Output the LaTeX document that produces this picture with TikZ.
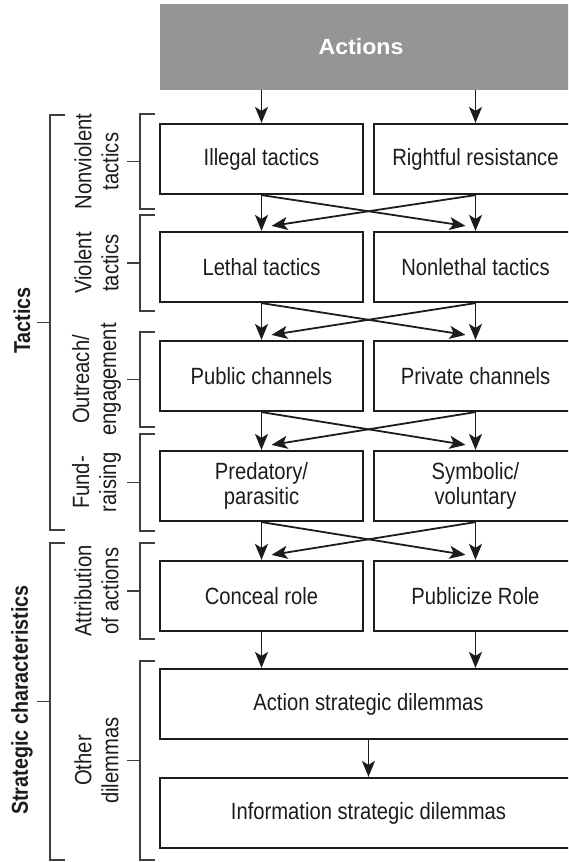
\documentclass[tikz,border=0pt]{standalone}
\usepackage{fontspec}
\setmainfont{Liberation Sans}[FakeStretch=0.86]
\newfontfamily\headfont{Liberation Sans}[FakeStretch=1.05]
\usetikzlibrary{arrows.meta}
\definecolor{headgray}{RGB}{148,149,151}
\definecolor{ink}{RGB}{30,27,28}
\begin{document}
\begin{tikzpicture}[x=1pt,y=-1pt,
  box/.style={draw=ink, line width=2.2pt, minimum width=203pt, minimum height=70pt,
    inner sep=0pt, align=center, font=\fontsize{23.5}{25}\selectfont, text=ink},
  widebox/.style={box, minimum width=417pt},
  headbox/.style={fill=headgray, draw=none, minimum width=440pt, minimum height=86pt, inner sep=0pt},
  headtext/.style={text=white, font=\headfont\fontsize{22}{24}\selectfont\bfseries, inner sep=0pt},
  arr/.style={draw=ink, line width=1.8pt, -{Stealth[length=16pt,width=13pt,inset=4pt]}},
  brace/.style={draw=ink!85, line width=1.6pt},
  sublabel/.style={rotate=90, align=center, font=\fontsize{23.5}{27}\selectfont, text=ink, inner sep=0pt},
  grouplabel/.style={rotate=90, font=\fontsize{23}{27}\selectfont\bfseries, text=ink, inner sep=0pt},
]
\useasboundingbox (0,0) rectangle (568,862);
\clip (0,0) rectangle (568,862);

% header
\node[headbox] (act) at (380,47) {};
\node[headtext] (acttitle) at (361,47) {Actions};

% paired boxes
\node[box] (l1) at (261.5,159) {Illegal tactics};
\node[box] (r1) at (475.5,159) {Rightful resistance};
\node[box] (l2) at (261.5,267) {Lethal tactics};
\node[box] (r2) at (475.5,267) {Nonlethal tactics};
\node[box] (l3) at (261.5,376) {Public channels};
\node[box] (r3) at (475.5,376) {Private channels};
\node[box] (l4) at (261.5,486) {Predatory/\\parasitic};
\node[box] (r4) at (475.5,486) {Symbolic/\\voluntary};
\node[box] (l5) at (261.5,596) {Conceal role};
\node[box] (r5) at (475.5,596) {Publicize Role};
% full-width boxes
\node[widebox] (w6) at (368.5,704) {Action strategic dilemmas};
\node[widebox] (w7) at (368.5,813) {Information strategic dilemmas};

% arrows from the header
\draw[arr] (act.south -| l1.north) -- (l1.north);
\draw[arr] (act.south -| r1.north) -- (r1.north);

% straight and crossing arrows between paired rows
\foreach \a/\b in {1/2,2/3,3/4,4/5}{
  \draw[arr] (l\a.south) -- (l\b.north);
  \draw[arr] (r\a.south) -- (r\b.north);
  \draw[arr] (l\a.south) -- ([xshift=-10pt,yshift=5pt]r\b.north);
  \draw[arr] (r\a.south) -- ([xshift=10pt,yshift=5pt]l\b.north);
}
\draw[arr] (l5.south) -- (l5.south |- w6.north);
\draw[arr] (r5.south) -- (r5.south |- w6.north);
\draw[arr] (w6.south) -- (w7.north);

% inner brackets with their labels
\foreach \t/\b/\txt [count=\i] in {
  114/209/{Nonviolent\\tactics},
  215/311/{Violent\\tactics},
  332/427/{Outreach/\\engagement},
  434/531/{Fund-\\raising},
  543/639/{Attribution\\of actions},
  661/860/{Other\\dilemmas}}{
  \pgfmathsetmacro{\m}{(\t+\b)/2}
  \draw[brace] (155,\t) -- (140,\t) -- (140,\b) -- (155,\b);
  \draw[brace] (140,\m) -- (127,\m);
  \node[sublabel] (sub\i) at (96.5,\m) {\txt};
}

% outer brackets with their labels
\draw[brace] (65,115) -- (50,115) -- (50,530) -- (65,530);
\draw[brace] (50,322.5) -- (37,322.5);
\node[grouplabel] (tactics) at (22,320.5) {Tactics};
\draw[brace] (65,543) -- (50,543) -- (50,860) -- (65,860);
\draw[brace] (50,701.5) -- (37,701.5);
\node[grouplabel] (strategic) at (22,700) {Strategic characteristics};
\end{tikzpicture}
\end{document}
